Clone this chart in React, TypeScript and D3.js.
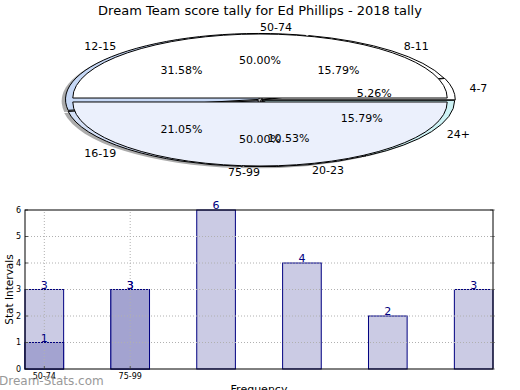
import React from 'react';
import * as d3 from 'd3';

const title = 'Dream Team score tally for Ed Phillips - 2018 tally';
const outerLabels = ['4-7', '8-11', '12-15', '16-19', '20-23', '24+'];
const outerValues = [1, 3, 6, 4, 2, 3];
const outerColors = ['#ffffff', '#ffffff', '#c6d8f6', '#d3dff6', '#e4ebfa', '#cdf2f5'];
const outerExplode = [0.012, 0.01, 0.012, 0.012, 0.01, 0.01];
const innerLabels = ['50-74', '75-99'];
const innerValues = [1, 1];
const innerColors = ['#ffffff', '#ebf0fc'];
const innerExplode = [0.03, 0.03];
const barLightValues = [3, 3, 6, 4, 2, 3];
const barDarkLabels = ['50-74', '75-99'];
const barDarkValues = [1, 3];
const yTicks = [0, 1, 2, 3, 4, 5, 6];
const yLabel = 'Stat Intervals';
const xLabel = 'Frequency';
const watermark = 'Dream-Stats.com';

const FONT = 'DejaVu Sans, Verdana, sans-serif';
const cx = 260, cy = 100, rx = 193, ry = 66;
const arcGen = d3.arc<any>();

function slices(values: number[]) {
  const p = d3.pie<number>().sort(null).startAngle(0).endAngle(2 * Math.PI)(values);
  const total = d3.sum(values);
  return p.map((d) => ({ t1: d.startAngle, t2: d.endAngle, mid: (d.startAngle + d.endAngle) / 2, frac: d.value / total }));
}
function wedge(t1: number, t2: number, r: number) {
  return arcGen({ innerRadius: 0, outerRadius: r, startAngle: Math.PI / 2 - t2, endAngle: Math.PI / 2 - t1 }) as string;
}

function Pie() {
  const outer = slices(outerValues);
  const inner = slices(innerValues);
  const innerR = 0.97;
  const items: any[] = [];
  outer.forEach((s, i) => {
    const dx = outerExplode[i] * rx * Math.cos(s.mid) - 0.02 * rx;
    const dy = -outerExplode[i] * ry * Math.sin(s.mid) + 0.025 * ry;
    items.push(
      <g key={'sh' + i} transform={`translate(${cx + dx},${cy + dy}) scale(${rx},${ry})`}>
        <path d={wedge(s.t1, s.t2, 1)} fill="#666" opacity={0.55} />
      </g>
    );
  });
  outer.forEach((s, i) => {
    const dx = outerExplode[i] * rx * Math.cos(s.mid);
    const dy = -outerExplode[i] * ry * Math.sin(s.mid);
    items.push(
      <g key={'o' + i} transform={`translate(${cx + dx},${cy + dy}) scale(${rx},${ry})`}>
        <path d={wedge(s.t1, s.t2, 1)} fill={outerColors[i]} stroke="#000" strokeWidth={1} vectorEffect="non-scaling-stroke" />
      </g>
    );
  });
  inner.forEach((s, i) => {
    const dx = innerExplode[i] * rx * Math.cos(s.mid);
    const dy = -innerExplode[i] * ry * Math.sin(s.mid);
    items.push(
      <g key={'i' + i} transform={`translate(${cx + dx},${cy + dy}) scale(${rx},${ry})`}>
        <path d={wedge(s.t1, s.t2, innerR)} fill={innerColors[i]} stroke="#000" strokeWidth={1} vectorEffect="non-scaling-stroke" />
      </g>
    );
  });
  const texts: any[] = [];
  const addLabels = (ss: any[], labels: string[], key: string) => {
    ss.forEach((s, i) => {
      const c = Math.cos(s.mid), sn = Math.sin(s.mid);
      texts.push(
        <text key={key + 'l' + i} x={cx + 1.1 * rx * c} y={cy - 1.1 * ry * sn} textAnchor={c > 0 ? 'start' : 'end'} dominantBaseline="central" fontSize={11} fontFamily={FONT} fill="#000">
          {labels[i]}
        </text>
      );
      texts.push(
        <text key={key + 'p' + i} x={cx + 0.6 * rx * c} y={cy - 0.6 * ry * sn} textAnchor="middle" dominantBaseline="central" fontSize={11} fontFamily={FONT} fill="#000">
          {(s.frac * 100).toFixed(2) + '%'}
        </text>
      );
    });
  };
  addLabels(outer, outerLabels, 'o');
  addLabels(inner, innerLabels, 'i');
  return (
    <g>
      {items}
      {texts}
    </g>
  );
}

function Bars() {
  const w = 0.45;
  const n = barLightValues.length;
  const x = d3.scaleLinear().domain([-w / 2, n - 1 + w / 2]).range([25, 493]);
  const y = d3.scaleLinear().domain([0, 6]).range([369, 210]);
  const x0 = 25, x1 = 493, y0 = 369, y1 = 210;
  return (
    <g fontFamily={FONT}>
      {barLightValues.map((v, i) => (
        <rect key={'l' + i} x={x(i - w / 2)} y={y(v)} width={x(i + w / 2) - x(i - w / 2)} height={y(0) - y(v)} fill="#cbcbe4" stroke="#000080" strokeWidth={1} />
      ))}
      {barDarkValues.map((v, i) => (
        <rect key={'d' + i} x={x(i - w / 2)} y={y(v)} width={x(i + w / 2) - x(i - w / 2)} height={y(0) - y(v)} fill="#a3a3d0" stroke="#000080" strokeWidth={1} />
      ))}
      {yTicks.filter((t) => t > 0 && t < 6).map((t) => (
        <line key={'gy' + t} x1={x0} x2={x1} y1={y(t)} y2={y(t)} stroke="#b0b0b0" strokeWidth={1} strokeDasharray="1,2" />
      ))}
      {barDarkLabels.map((_, i) => (
        <line key={'gx' + i} x1={x(i)} x2={x(i)} y1={y0} y2={y1} stroke="#b0b0b0" strokeWidth={1} strokeDasharray="1,2" />
      ))}
      {yTicks.map((t) => (
        <g key={'t' + t}>
          <line x1={x0} x2={x0 + 3} y1={y(t)} y2={y(t)} stroke="#555" />
          <line x1={x1 - 3} x2={x1 + 2} y1={y(t)} y2={y(t)} stroke="#999" />
          <text x={x0 - 4} y={y(t)} textAnchor="end" dominantBaseline="central" fontSize={8} fill="#000">{t}</text>
        </g>
      ))}
      {barDarkLabels.map((lab, i) => (
        <g key={'xt' + i}>
          <line x1={x(i)} x2={x(i)} y1={y0} y2={y0 - 3} stroke="#555" />
          <text x={x(i)} y={y0 + 10} textAnchor="middle" fontSize={8} fill="#000">{lab}</text>
        </g>
      ))}
      <rect x={x0} y={y1} width={x1 - x0} height={y0 - y1} fill="none" stroke="#000" strokeWidth={1} />
      {barLightValues.map((v, i) => (
        <text key={'lv' + i} x={x(i)} y={y(v) - 1} textAnchor="middle" fontSize={11} fill="#000080">{v}</text>
      ))}
      {barDarkValues.map((v, i) => (
        <text key={'dv' + i} x={x(i)} y={y(v) - 1} textAnchor="middle" fontSize={11} fill="#000080">{v}</text>
      ))}
      <text transform={`translate(9,${(y0 + y1) / 2}) rotate(-90)`} textAnchor="middle" dominantBaseline="central" fontSize={10.5} fill="#000">{yLabel}</text>
      <text x={(x0 + x1) / 2} y={393} textAnchor="middle" fontSize={11} fill="#000">{xLabel}</text>
      <text x={-1} y={385} fontSize={12} fill="#888" opacity={0.85}>{watermark}</text>
    </g>
  );
}

export default function App() {
  return (
    <svg width={520} height={390} style={{ position: 'absolute', left: 0, top: 0, background: '#fff' }}>
      <rect width={520} height={390} fill="#fff" />
      <text x={260} y={15} textAnchor="middle" fontSize={13} fontFamily={FONT} fill="#000">{title}</text>
      <Pie />
      <Bars />
    </svg>
  );
}
